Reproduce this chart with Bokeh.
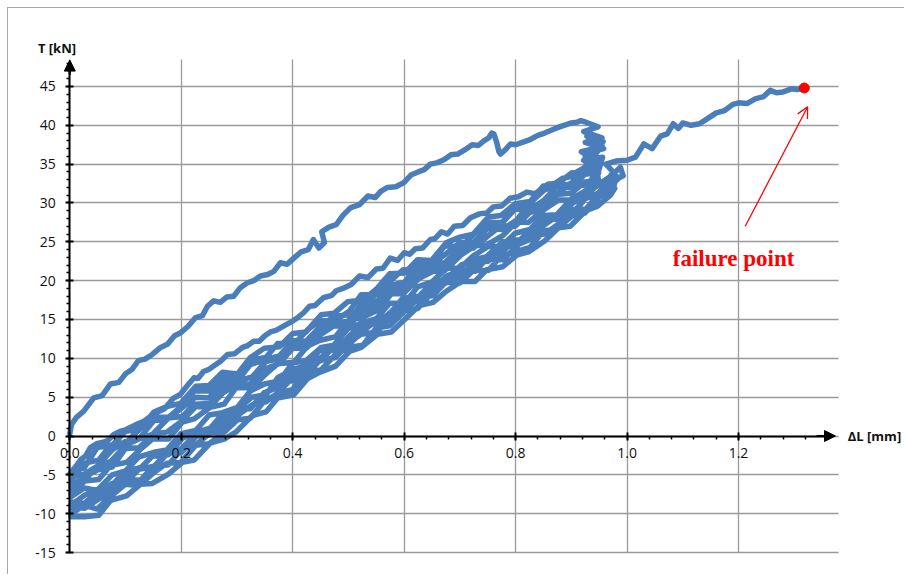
from bokeh.plotting import figure
from bokeh.models import (Range1d, LinearAxis, Grid, SingleIntervalTicker, PrintfTickFormatter,
                          Arrow, NormalHead, OpenHead, Label, ColumnDataSource)
from bokeh.embed import file_html
from bokeh.resources import INLINE

# ---------------- data (ΔL [mm], T [kN]) ----------------
first_loading = [(0.0, 0.3), (0.003, 1.5), (0.012, 2.4), (0.025, 3.2), (0.043, 4.9), (0.058, 5.2),
    (0.073, 6.7), (0.088, 6.9), (0.1, 8.0), (0.112, 8.6), (0.123, 9.7), (0.135, 9.9), (0.148, 10.5),
    (0.163, 11.4), (0.175, 11.8), (0.188, 12.9), (0.199, 13.3), (0.212, 14.1), (0.225, 15.2),
    (0.238, 15.5), (0.247, 16.7), (0.258, 17.4), (0.27, 17.2), (0.282, 17.9), (0.294, 18.0),
    (0.306, 19.1), (0.318, 19.7), (0.33, 20.0), (0.342, 20.6), (0.355, 20.8), (0.366, 21.2),
    (0.378, 22.3), (0.39, 22.1), (0.402, 22.9), (0.415, 23.7), (0.428, 24.0), (0.437, 25.3),
    (0.447, 24.2), (0.457, 24.9), (0.452, 26.3), (0.465, 26.9), (0.478, 27.2), (0.49, 28.4),
    (0.504, 29.4), (0.52, 29.8), (0.535, 30.9), (0.548, 30.7), (0.558, 31.5), (0.57, 32.0),
    (0.585, 32.1), (0.599, 32.6), (0.612, 33.6), (0.625, 34.0), (0.636, 34.3), (0.647, 35.0),
    (0.66, 35.2), (0.672, 35.6), (0.684, 36.2), (0.696, 36.3), (0.71, 36.9), (0.722, 37.5),
    (0.733, 37.4), (0.743, 38.0), (0.752, 38.4), (0.757, 39.0), (0.761, 38.9), (0.766, 37.8),
    (0.77, 36.6), (0.773, 36.3), (0.782, 36.9), (0.791, 37.6), (0.8, 37.5), (0.812, 37.8),
    (0.827, 38.2), (0.84, 38.7), (0.852, 39.0), (0.865, 39.4), (0.875, 39.7), (0.887, 40.0),
    (0.9, 40.3), (0.91, 40.4), (0.917, 40.6)]
peak_column = [(0.926, 40.4), (0.948, 39.8), (0.922, 39.2), (0.955, 38.4), (0.925, 37.8),
    (0.958, 37.0), (0.928, 36.4), (0.953, 35.6), (0.93, 35.0)]
first_unloading = [(0.922, 34.5), (0.91, 34.0), (0.9, 33.4), (0.885, 33.2), (0.87, 32.5),
    (0.858, 32.4), (0.85, 32.0), (0.835, 31.2), (0.82, 31.4), (0.805, 30.8), (0.79, 30.6),
    (0.775, 29.6), (0.76, 29.5), (0.748, 28.7), (0.735, 28.6), (0.719, 28.1), (0.705, 27.1),
    (0.69, 27.0), (0.678, 26.0), (0.667, 26.3), (0.655, 25.4), (0.647, 25.3), (0.633, 24.2),
    (0.62, 24.1), (0.61, 23.4), (0.6, 23.6), (0.588, 22.6), (0.575, 22.9), (0.562, 21.6),
    (0.55, 21.5), (0.535, 20.4), (0.52, 20.6), (0.505, 19.5), (0.49, 19.0), (0.478, 18.7),
    (0.47, 18.1), (0.455, 17.8), (0.44, 16.8), (0.43, 16.7), (0.42, 15.9), (0.41, 15.3),
    (0.40, 14.8), (0.385, 14.2), (0.37, 13.6), (0.36, 13.4), (0.35, 12.9), (0.34, 12.2),
    (0.33, 12.2), (0.318, 11.6), (0.31, 11.4), (0.296, 10.6), (0.283, 10.5), (0.27, 9.6),
    (0.26, 9.1), (0.25, 8.6), (0.24, 8.3), (0.23, 7.4), (0.223, 7.5), (0.21, 6.4), (0.199, 5.4),
    (0.185, 4.8), (0.17, 3.5), (0.152, 2.9), (0.133, 1.9), (0.117, 1.4), (0.1, 0.8), (0.09, 0.6),
    (0.079, 0.2), (0.068, -0.6), (0.06, -0.8), (0.048, -1.0), (0.037, -1.5), (0.028, -2.6),
    (0.02, -3.0), (0.01, -4.0), (0.0, -4.9), (0.003, -5.3)]

# displacement samples of the repeated cycles (loading: increasing, unloading: decreasing)
x_up = [0.003, 0.026, 0.049, 0.076, 0.1, 0.124, 0.151, 0.174, 0.199, 0.226, 0.25, 0.274, 0.301,
        0.324, 0.349, 0.376, 0.4, 0.424, 0.451, 0.474, 0.499, 0.526, 0.55, 0.574, 0.601, 0.624,
        0.649, 0.676, 0.7, 0.724, 0.751, 0.774, 0.799, 0.826, 0.85, 0.874, 0.901, 0.924, 0.949]
x_down = [0.947, 0.926, 0.898, 0.877, 0.852, 0.823, 0.802, 0.777, 0.748, 0.727, 0.702, 0.673,
          0.652, 0.627, 0.598, 0.577, 0.552, 0.523, 0.502, 0.477, 0.448, 0.427, 0.402, 0.373,
          0.352, 0.327, 0.298, 0.277, 0.252, 0.223, 0.202, 0.177, 0.148, 0.127, 0.102, 0.073,
          0.052, 0.027, 0.002]

# upper band of cycles
u1_y = [-4.6, -4.1, -1.5, -1.2, 0.6, 0.8, 3.1, 3.8, 4.2, 6.4, 6.5, 8.2, 8.0, 10.1, 11.3, 11.5, 13.2,
        13.4, 15.6, 15.8, 17.3, 17.5, 18.9, 20.9, 21.0, 22.7, 22.6, 24.9, 25.6, 26.0, 28.2, 28.4,
        29.9, 30.2, 32.2, 32.4, 33.9, 33.7, 35.2]
u1_end = [(0.925, 36.0), (0.955, 37.4), (0.928, 38.6), (0.957, 37.9), (0.94, 36.3)]
u2_y = [34.2, 34.3, 32.4, 32.3, 31.7, 29.8, 29.5, 27.5, 27.5, 26.1, 24.4, 24.5, 22.6, 21.3, 21.4,
        20.1, 18.2, 18.2, 16.1, 14.9, 14.8, 13.7, 11.8, 11.9, 10.1, 9.8, 7.7, 7.5, 5.8, 5.8, 3.9,
        2.4, 2.4, 1.0, -0.8, -1.2, -3.1, -3.5, -5.6]
u3_y = [-5.3, -4.9, -3.9, -1.8, -0.7, -0.4, 2.0, 2.1, 3.5, 5.0, 4.9, 6.8, 7.1, 9.2, 9.8, 10.3, 12.3,
        12.2, 14.2, 15.4, 15.6, 16.3, 18.4, 19.4, 19.8, 22.1, 22.1, 23.5, 24.9, 24.9, 26.8, 27.4,
        29.2, 29.2, 30.3, 32.1, 32.0, 33.7, 33.9]
u3_end = [(0.944, 35.4), (0.918, 36.6), (0.952, 37.2), (0.932, 35.0)]
u4_y = [33.9, 32.2, 32.5, 31.3, 29.7, 29.7, 27.8, 26.6, 26.7, 24.8, 24.3, 22.3, 22.1, 21.4, 19.1,
        19.0, 17.4, 17.0, 14.8, 14.5, 13.7, 11.7, 11.6, 9.9, 9.6, 7.6, 7.0, 6.4, 4.2, 4.1, 2.5, 2.3,
        0.2, -0.3, -1.1, -3.3, -3.7, -5.6, -6.1]
u5_y = [-7.1, -5.2, -4.4, -4.0, -1.6, -1.5, 0.3, 0.5, 1.8, 3.8, 3.7, 5.5, 6.7, 6.7, 8.6, 9.3, 11.3,
        11.3, 13.1, 14.2, 14.1, 16.1, 16.8, 18.8, 18.8, 20.8, 21.6, 21.9, 24.0, 24.2, 25.8, 27.1,
        27.0, 28.8, 29.2, 31.1, 31.3, 32.7, 32.9]
u5_end = [(0.945, 34.3), (0.922, 35.5), (0.956, 35.9), (0.948, 33.9)]
u6_y = [33.3, 31.6, 30.4, 30.4, 29.2, 27.5, 27.6, 25.8, 24.6, 24.5, 23.3, 21.3, 21.2, 20.3, 18.3,
        18.3, 16.2, 15.2, 15.0, 12.8, 12.3, 11.6, 9.5, 9.3, 8.0, 6.2, 6.2, 4.1, 3.7, 2.2, 1.8, -0.4,
        -0.4, -1.7, -3.4, -3.8, -5.6, -5.8, -7.4]
# lower band of cycles
b1_y = [-7.8, -6.7, -7.0, -5.0, -4.5, -2.7, -2.1, -1.8, 0.3, 0.7, 2.7, 3.0, 3.7, 5.8, 6.7, 7.1, 9.4,
        9.7, 11.4, 11.7, 13.8, 14.6, 15.1, 17.1, 17.1, 19.2, 19.8, 21.6, 21.6, 23.2, 24.4, 24.4,
        26.1, 26.6, 28.4, 28.5, 30.6, 30.9, 32.4]
b1_end = [(0.97, 33.4), (0.988, 34.6), (0.993, 33.5)]
b2_pre = [(0.985, 33.2), (0.968, 32.1)]
b2_y = [31.1, 31.0, 29.8, 27.9, 27.9, 26.2, 24.9, 25.0, 23.1, 22.7, 22.0, 20.0, 19.9, 18.0, 17.8,
        16.0, 14.5, 14.3, 12.9, 11.0, 11.0, 9.1, 8.6, 7.5, 5.3, 5.0, 3.3, 3.1, 1.0, 0.4, -0.3, -2.4,
        -2.6, -4.1, -4.4, -6.5, -6.8, -7.6, -8.9]
b3_y = [-8.5, -8.7, -7.2, -7.1, -5.2, -4.1, -4.2, -2.3, -1.7, 0.2, 0.3, 2.0, 3.4, 3.5, 5.6, 6.3, 8.3,
        8.4, 10.1, 11.5, 11.6, 13.7, 14.7, 15.1, 17.3, 17.6, 18.7, 20.6, 21.3, 21.4, 23.3, 23.6,
        25.2, 25.4, 27.1, 28.3, 28.5, 30.6, 31.0]
b3_end = [(0.968, 32.2), (0.982, 33.4)]
b4_pre = [(0.975, 32.0), (0.962, 31.0)]
b4_y = [31.0, 29.2, 29.2, 27.3, 26.0, 25.8, 24.4, 22.7, 22.8, 21.2, 21.2, 19.7, 18.1, 17.8, 15.9,
        15.7, 13.4, 13.1, 12.1, 10.1, 9.7, 8.1, 7.7, 5.5, 4.4, 4.0, 2.5, 0.6, 0.4, -1.3, -1.6, -3.7,
        -4.0, -5.7, -5.6, -7.5, -8.1, -9.3, -9.1]
b5_y = [-10.0, -8.9, -9.4, -7.6, -6.2, -6.4, -4.7, -3.5, -3.4, -1.2, -1.0, 0.3, 2.1, 2.3, 4.5, 5.5,
        6.0, 8.3, 8.5, 10.3, 11.4, 11.7, 13.9, 14.2, 16.1, 16.4, 18.4, 19.8, 19.7, 21.3, 21.3, 23.2,
        23.7, 24.3, 26.4, 26.7, 28.3, 28.7, 30.7]
b5_end = [(0.966, 31.6), (0.978, 31.9)]
b6_pre = [(0.97, 31.0)]
b6_y = [29.6, 29.0, 27.0, 26.8, 25.1, 23.7, 23.3, 21.8, 21.4, 19.9, 19.9, 18.5, 17.2, 16.8, 14.8,
        13.4, 13.1, 11.4, 10.9, 9.0, 8.2, 7.4, 5.3, 4.9, 3.1, 2.6, 0.5, -0.4, -0.9, -3.1, -3.4, -4.9,
        -6.1, -6.2, -7.7, -8.3, -10.2, -10.4, -10.4]
# last loading up to failure
final_y = [-8.5, -8.9, -7.7, -6.1, -6.0, -4.3, -3.9, -2.2, -2.2, -0.1, 0.7, 1.2, 3.5, 3.7, 5.4, 6.9,
           7.1, 9.1, 9.7, 11.6, 11.7, 13.5, 14.9, 14.9, 16.9, 17.4, 19.7, 20.2, 20.5, 22.3, 22.5,
           24.3, 24.5, 25.3, 27.3, 28.2, 28.4, 30.5, 31.3]
final_tail = [(0.962, 32.6), (0.975, 34.0), (0.962, 35.0), (0.98, 35.4), (1.0, 35.5), (1.015, 35.9),
    (1.03, 37.6), (1.045, 37.0), (1.06, 38.6), (1.072, 38.9), (1.083, 40.2), (1.092, 39.6),
    (1.1, 40.3), (1.115, 40.0), (1.13, 40.2), (1.145, 40.9), (1.16, 41.6), (1.175, 41.9),
    (1.19, 42.7), (1.2, 42.9), (1.215, 42.8), (1.23, 43.4), (1.245, 43.7), (1.257, 44.5),
    (1.268, 44.2), (1.28, 44.3), (1.295, 44.7), (1.305, 44.6), (1.318, 44.8)]
failure_x = [1.318]
failure_y = [44.8]

for ys in (u1_y, u2_y, u3_y, u4_y, u5_y, u6_y, b1_y, b2_y, b3_y, b4_y, b5_y, b6_y, final_y):
    assert len(ys) == len(x_up) == len(x_down)

def up(ys):
    return list(zip(x_up, ys))

def down(ys):
    return list(zip(x_down, ys))

branches = [first_loading, peak_column, first_unloading,
            up(u1_y) + u1_end, down(u2_y), up(u3_y) + u3_end, down(u4_y),
            up(u5_y) + u5_end, down(u6_y),
            up(b1_y) + b1_end, b2_pre + down(b2_y), up(b3_y) + b3_end, b4_pre + down(b4_y),
            up(b5_y) + b5_end, b6_pre + down(b6_y), up(final_y) + final_tail]
curve_x = [pt[0] for br in branches for pt in br]
curve_y = [pt[1] for br in branches for pt in br]

x_major = 0.2
y_major = 5
x_grid_ticks = [0.2, 0.4, 0.6, 0.8, 1.0, 1.2]
y_grid_ticks = [-15, -10, -5, 5, 10, 15, 20, 25, 30, 35, 40, 45]
x_extent = (0, 1.38)
y_extent = (-15, 48.5)

# ---------------- figure ----------------
p = figure(width=897, height=567, x_range=Range1d(-0.110, 1.4996), y_range=Range1d(-17.96, 55.04),
           output_backend="svg", toolbar_location=None,
           x_axis_location=None, y_axis_location=None,
           min_border_left=0, min_border_right=0, min_border_top=0, min_border_bottom=0)
p.outline_line_color = None
p.background_fill_color = "white"
p.border_fill_color = "white"
p.grid.visible = False
p.styles = {"margin-left": "7px", "margin-top": "7px",
            "border-left": "1px solid #a8a8a8", "border-top": "1px solid #a8a8a8"}

grid_color = "#9a9a9a"
if "cross_bounds" in Grid.properties():
    xg = Grid(dimension=0, ticker=SingleIntervalTicker(interval=x_major), bounds=x_extent,
              cross_bounds=y_extent, grid_line_color=grid_color, grid_line_width=1.3)
    yg = Grid(dimension=1, ticker=SingleIntervalTicker(interval=y_major), bounds=(-15, 45),
              cross_bounds=x_extent, grid_line_color=grid_color, grid_line_width=1.3)
    p.add_layout(xg, "center")
    p.add_layout(yg, "center")
else:
    p.segment(x0=x_grid_ticks, y0=[y_extent[0]] * len(x_grid_ticks), x1=x_grid_ticks,
              y1=[y_extent[1]] * len(x_grid_ticks), line_color=grid_color, line_width=1.3,
              level="underlay")
    p.segment(x0=[x_extent[0]] * len(y_grid_ticks), y0=y_grid_ticks,
              x1=[x_extent[1]] * len(y_grid_ticks), y1=y_grid_ticks,
              line_color=grid_color, line_width=1.3, level="underlay")

src = ColumnDataSource(data=dict(x=curve_x, y=curve_y))
p.line("x", "y", source=src, line_color="#4a7ebb", line_width=5.5, line_join="round",
       line_cap="round")
p.scatter(failure_x, failure_y, size=10, color="#ff0000")

label_font = "Open Sans"

xaxis = LinearAxis(fixed_location=0, bounds=(0, 1.362),
                   ticker=SingleIntervalTicker(interval=x_major, num_minor_ticks=5),
                   formatter=PrintfTickFormatter(format="%.1f"))
yaxis = LinearAxis(fixed_location=0, bounds=(-15, 48.0),
                   ticker=SingleIntervalTicker(interval=y_major, num_minor_ticks=5),
                   formatter=PrintfTickFormatter(format="%d"))
for ax in (xaxis, yaxis):
    ax.axis_line_color = "black"
    ax.axis_line_width = 2
    ax.major_tick_line_color = "black"
    ax.major_tick_line_width = 2
    ax.major_tick_in = 4
    ax.major_tick_out = 4
    ax.minor_tick_line_color = "black"
    ax.minor_tick_line_width = 1.5
    ax.minor_tick_in = 0
    ax.minor_tick_out = 3
    ax.major_label_text_font = label_font
    ax.major_label_text_font_size = "14px"
    ax.major_label_text_color = "#111111"
xaxis.major_label_standoff = 8
yaxis.major_label_standoff = 10
p.add_layout(xaxis, "below")
p.add_layout(yaxis, "left")

# axis arrow heads
p.add_layout(Arrow(end=NormalHead(size=11, fill_color="black", line_color="black"),
                   x_start=1.34, y_start=0, x_end=1.374, y_end=0,
                   line_color="black", line_width=2))
p.add_layout(Arrow(end=NormalHead(size=11, fill_color="black", line_color="black"),
                   x_start=0, y_start=46.5, x_end=0, y_end=48.4,
                   line_color="black", line_width=2))

# axis titles
p.add_layout(Label(x=-0.023, y=49.9, text="T [kN]", text_align="center", text_baseline="middle",
                   text_font=label_font, text_font_style="bold", text_font_size="13px",
                   text_color="#111111"))
p.add_layout(Label(x=1.396, y=0, text="ΔL [mm]", text_align="left", text_baseline="middle",
                   text_font=label_font, text_font_style="bold", text_font_size="13px",
                   text_color="#111111"))

# failure annotation
p.add_layout(Arrow(end=OpenHead(size=11, line_color="#ff0000", line_width=1.3),
                   x_start=1.212, y_start=27.0, x_end=1.324, y_end=42.4,
                   line_color="#ff0000", line_width=1.3))
p.add_layout(Label(x=1.082, y=22.9, text="failure point", text_align="left",
                   text_baseline="alphabetic", text_font="Liberation Serif",
                   text_font_style="bold", text_font_size="23px", text_color="#ff0000"))

open("out.html", "w").write(file_html(p, INLINE))
